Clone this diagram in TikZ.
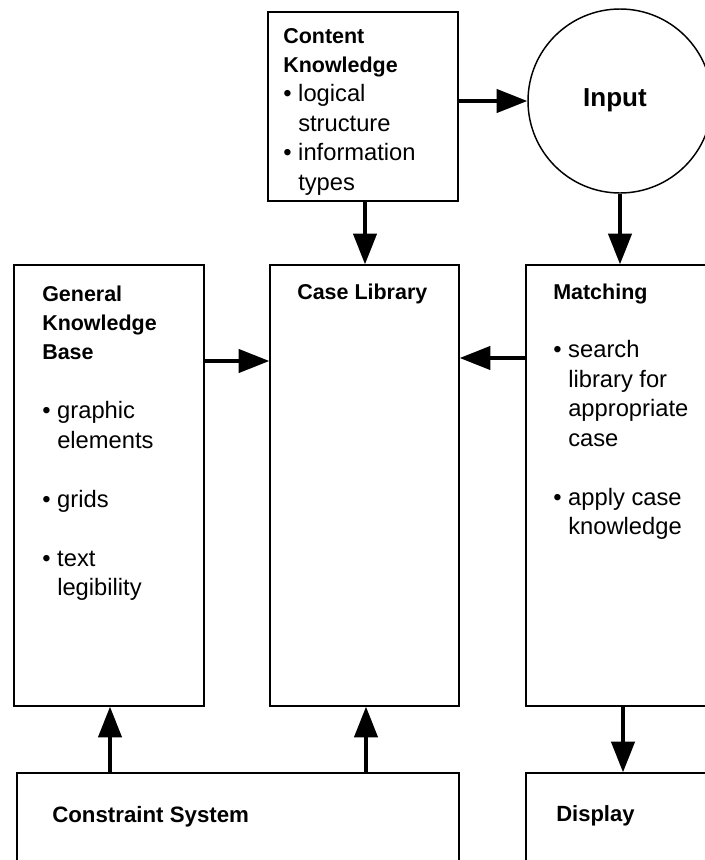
\documentclass[tikz,border=0pt]{standalone}
\usepackage{fontspec}
\setmainfont{Liberation Sans}
\usetikzlibrary{arrows.meta,fit,calc}
\newcommand{\headfnt}{\fontsize{16.1pt}{22.1pt}\selectfont\bfseries}
\newcommand{\bodyfnt}{\fontsize{17.8pt}{22.1pt}\selectfont}
\newcommand{\hdln}[1]{\hbox{\headfnt #1}}
\newcommand{\blln}[1]{\hbox{\makebox[11.25pt][l]{•}#1}}
\newcommand{\ctln}[1]{\hbox{\hspace{11.25pt}#1}}
\newcommand{\blankln}{\hbox{}}
\newcommand{\txtbox}[1]{\vtop{\bodyfnt\baselineskip=22.1pt\lineskiplimit=-50pt\lineskip=0pt #1}}
\tikzset{
  box/.style={draw, line width=1.1pt, inner sep=0pt, rectangle},
  arr/.style={line width=2.5pt, -{Triangle[length=23pt,width=17.5pt]}},
  txt/.style={anchor=base west, inner sep=0pt},
}
\begin{document}
\begin{tikzpicture}[x=0.75pt,y=-0.75pt]
\useasboundingbox (0,0) rectangle (705,860);
\clip (0,0) rectangle (705,860);
\fill[white] (0,0) rectangle (705,860);
% boxes
\node (content) [box, fit={(268,12) (458,201)}] {};
\node (input) [draw, circle, line width=1.1pt, minimum size=138pt, inner sep=0pt] at (620,101) {};
\node (gkb) [box, fit={(14,265) (204,706)}] {};
\node (caselib) [box, fit={(270,265) (459,706)}] {};
\node (matching) [box, fit={(526,265) (730,706)}] {};
\node (cons) [box, fit={(17,773) (459,880)}] {};
\node (display) [box, fit={(526,773) (730,880)}] {};
% texts
\node (inputtxt) [inner sep=0pt] at (615,100) {\fontsize{19.5pt}{22pt}\selectfont\bfseries Input};
\node (contenttxt) [txt] at (283,43) {\txtbox{\hdln{Content}\hdln{Knowledge}\blln{logical}\ctln{structure}\blln{information}\ctln{types}}};
\node (gkbtxt) [txt] at (42,301) {\txtbox{\hdln{General}\hdln{Knowledge}\hdln{Base}\blankln\blln{graphic}\ctln{elements}\blankln\blln{grids}\blankln\blln{text}\ctln{legibility}}};
\node (casetxt) [txt] at (297,299) {\headfnt Case Library};
\node (matchtxt) [txt] at (553,299) {\txtbox{\hdln{Matching}\blankln\blln{search}\ctln{library for}\ctln{appropriate}\ctln{case}\blankln\blln{apply case}\ctln{knowledge}}};
\node (constxt) [txt] at (52,822) {\fontsize{16.7pt}{22pt}\selectfont\bfseries Constraint System};
\node (disptxt) [txt] at (556,821) {\fontsize{16.5pt}{22pt}\selectfont\bfseries Display};
% coordinates for connectors
\coordinate (ya) at (0,361);
\coordinate (yb) at (0,358);
\coordinate (xa) at (110,0);
\coordinate (xb) at (366,0);
\coordinate (xc) at (623,0);
\coordinate (xd) at (365,0);
% connectors
\draw[arr] (content.east |- input.west) -- (input.west);
\draw[arr] (content.south -| xd) -- (caselib.north -| xd);
\draw[arr] (input.south) -- (input.south |- matching.north);
\draw[arr] (gkb.east |- ya) -- (caselib.west |- ya);
\draw[arr] (matching.west |- yb) -- (caselib.east |- yb);
\draw[arr] (cons.north -| xa) -- (gkb.south -| xa);
\draw[arr] (cons.north -| xb) -- (caselib.south -| xb);
\draw[arr] (matching.south -| xc) -- (display.north -| xc);
\end{tikzpicture}
\end{document}
